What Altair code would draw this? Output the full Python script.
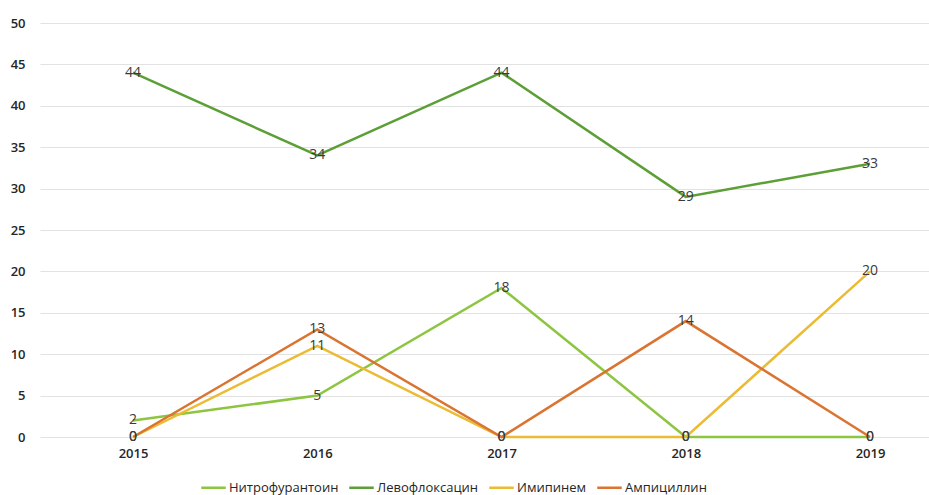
import altair as alt
import pandas as pd

years = [2015, 2016, 2017, 2018, 2019]
series_names = ["Нитрофурантоин", "Левофлоксацин", "Имипинем", "Ампициллин"]
nitrofurantoin = [2, 5, 18, 0, 0]
levofloxacin = [44, 34, 44, 29, 33]
imipenem = [0, 11, 0, 0, 20]
ampicillin = [0, 13, 0, 14, 0]
series_colors = ["#8dc540", "#5c9f36", "#ebbb33", "#da7430"]
y_ticks = [0, 5, 10, 15, 20, 25, 30, 35, 40, 45, 50]

rows = []
for name, values in zip(series_names, [nitrofurantoin, levofloxacin, imipenem, ampicillin]):
    for yr, v in zip(years, values):
        rows.append({"year": yr, "value": v, "drug": name})
df = pd.DataFrame(rows)

FONT = "Open Sans"

x_enc = alt.X(
    "year:Q",
    scale=alt.Scale(domain=[2014.495, 2019.32], nice=False, zero=False),
    axis=alt.Axis(
        values=years, format="d", title=None, grid=False, domain=False, ticks=False,
        labelFont=FONT, labelFontSize=13, labelFontWeight=600, labelColor="#262626",
        labelPadding=10,
    ),
)
y_enc = alt.Y(
    "value:Q",
    scale=alt.Scale(domain=[0, 50], nice=False),
    axis=alt.Axis(
        values=y_ticks, title=None, domain=False, ticks=False,
        gridColor="#e2e2e2", gridWidth=1.2,
        labelFont=FONT, labelFontSize=13, labelFontWeight=600, labelColor="#262626",
        labelPadding=15,
    ),
)
color_enc = alt.Color(
    "drug:N",
    sort=series_names,
    scale=alt.Scale(domain=series_names, range=series_colors),
    legend=alt.Legend(
        title=None, orient="none", direction="horizontal",
        legendX=160, legendY=451,
        symbolType="stroke", symbolSize=600, symbolStrokeWidth=2.5,
        labelFont=FONT, labelFontSize=13, labelColor="#262626",
        labelOffset=2, columnPadding=5,
    ),
)

lines = alt.Chart(df).mark_line(strokeWidth=2.5).encode(
    x=x_enc, y=y_enc, color=color_enc, order="year:Q"
)
labels = alt.Chart(df).mark_text(
    font=FONT, fontSize=14, color="#3a3a3a", baseline="middle", align="center"
).encode(x="year:Q", y="value:Q", text="value:Q")

chart = (
    alt.layer(lines, labels)
    .properties(
        width=889, height=414,
        autosize=alt.AutoSizeParams(type="none"),
        padding={"left": 40, "top": 23, "right": 0, "bottom": 58},
        background="white",
    )
    .configure_view(stroke=None)
)

chart.save("out.html", embed_options={"renderer": "svg", "actions": False})
